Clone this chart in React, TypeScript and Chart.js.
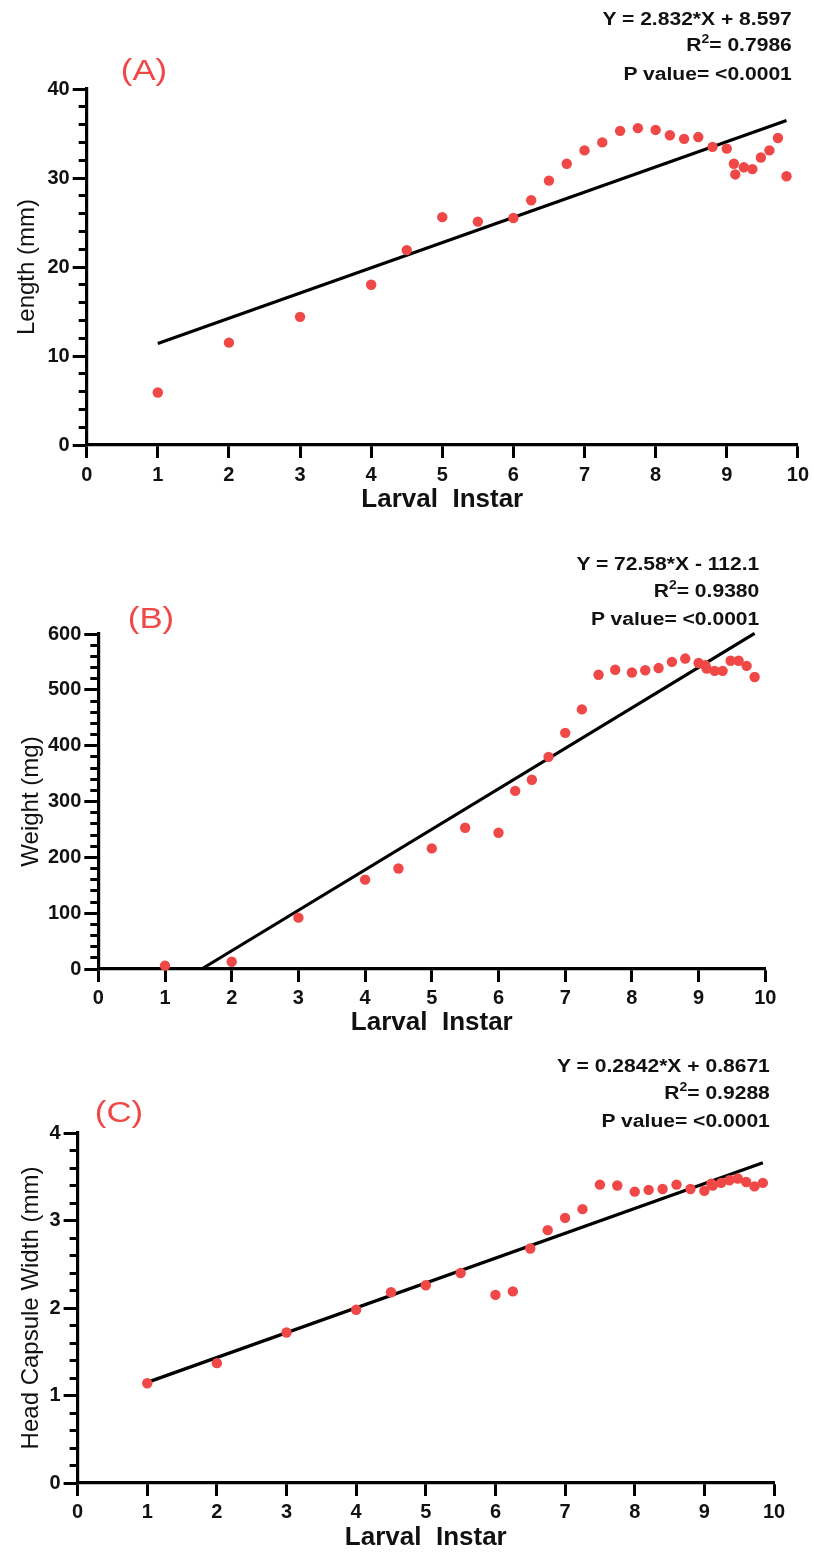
import React, { useEffect, useRef } from 'react';
import { Chart, registerables } from 'chart.js';

Chart.register(...registerables);

// ---------- data ----------
const instar = [1, 2, 3, 4, 4.5, 5, 5.5, 6, 6.25, 6.5, 6.75, 7, 7.25, 7.5, 7.75, 8, 8.2, 8.4, 8.6, 8.8, 9, 9.1, 9.12, 9.24, 9.36, 9.48, 9.6, 9.72, 9.84];
const lengthMm = [5.9, 11.5, 14.4, 18.0, 21.9, 25.6, 25.1, 25.5, 27.5, 29.7, 31.6, 33.1, 34.0, 35.3, 35.6, 35.4, 34.8, 34.4, 34.6, 33.5, 33.3, 31.6, 30.4, 31.2, 31.0, 32.3, 33.1, 34.5, 30.2];
const weightMg = [6, 13, 92, 160, 180, 216, 253, 244, 319, 339, 380, 423, 465, 527, 536, 531, 535, 539, 550, 556, 548, 544, 538, 534, 534, 552, 552, 543, 523];
const headWidthMm = [1.14, 1.37, 1.72, 1.98, 2.18, 2.26, 2.4, 2.15, 2.19, 2.68, 2.89, 3.03, 3.13, 3.41, 3.4, 3.33, 3.35, 3.36, 3.41, 3.36, 3.34, 3.42, 3.4, 3.43, 3.46, 3.48, 3.44, 3.39, 3.43];

const lengthFitX = [1, 9.84];
const lengthFitY = [11.4, 36.46];
const weightFitX = [1.55, 9.84];
const weightFitY = [0, 601];
const headFitX = [1, 9.84];
const headFitY = [1.15, 3.66];

const xTickLabels = ['0', '1', '2', '3', '4', '5', '6', '7', '8', '9', '10'];
const lengthTicks = [0, 10, 20, 30, 40];
const weightTicks = [0, 100, 200, 300, 400, 500, 600];
const headTicks = [0, 1, 2, 3, 4];

const lengthStats = ['Y = 2.832*X + 8.597', '0.7986', 'P value= <0.0001'];
const weightStats = ['Y = 72.58*X - 112.1', '0.9380', 'P value= <0.0001'];
const headStats = ['Y = 0.2842*X + 0.8671', '0.9288', 'P value= <0.0001'];

// ---------- styling ----------
const FONT = "'Liberation Sans', Arial, Helvetica, sans-serif";
const RED = '#F04747';
const INK = '#111111';

type PanelProps = {
  top: number;
  height: number;
  padTop: number;
  padRight: number;
  yWidth: number;
  xHeight: number;
  xPad: number;
  yTitle: string;
  yTitlePad: number;
  majors: number[];
  xs: number[];
  ys: number[];
  fitX: number[];
  fitY: number[];
};

function Panel(p: PanelProps) {
  const ref = useRef<HTMLCanvasElement | null>(null);
  useEffect(() => {
    if (!ref.current) return;
    const majors = p.majors;
    const majorStep = majors[1] - majors[0];
    const minorStep = majorStep / 5;
    const yMax = majors[majors.length - 1];
    const isMajor = (v: number) => Math.abs(v / majorStep - Math.round(v / majorStep)) < 1e-6;
    const chart = new Chart(ref.current, {
      type: 'scatter',
      data: {
        datasets: [
          {
            data: p.xs.map((x, i) => ({ x, y: p.ys[i] })),
            backgroundColor: RED,
            borderWidth: 0,
            pointRadius: 5.2,
            pointHoverRadius: 5.2,
            clip: false,
          } as any,
          {
            type: 'line',
            data: p.fitX.map((x, i) => ({ x, y: p.fitY[i] })),
            borderColor: '#000',
            borderWidth: 3.2,
            pointRadius: 0,
            showLine: true,
            fill: false,
            clip: false,
          } as any,
        ],
      },
      options: {
        responsive: false,
        animation: false,
        events: [],
        layout: { padding: { top: p.padTop, right: p.padRight, left: 0, bottom: 0 } },
        plugins: { legend: { display: false }, tooltip: { enabled: false }, title: { display: false } },
        scales: {
          x: {
            type: 'linear',
            min: 0,
            max: 10,
            afterFit: (s: any) => { s.height = p.xHeight; },
            ticks: {
              stepSize: 1,
              autoSkip: false,
              maxRotation: 0,
              padding: p.xPad,
              color: INK,
              font: { family: FONT, size: 20, weight: 'bold' },
              callback: (v: any) => xTickLabels[Math.round(Number(v))] ?? '',
            },
            grid: { display: true, drawOnChartArea: false, drawTicks: true, tickLength: 13, tickWidth: 3, tickColor: '#000' },
            border: { display: true, color: '#000', width: 3.2 },
            title: {
              display: true,
              text: 'Larval  Instar',
              color: INK,
              font: { family: FONT, size: 26, weight: 'bold' },
              padding: { top: 0, bottom: 0 },
            },
          },
          y: {
            type: 'linear',
            min: 0,
            max: yMax,
            afterFit: (s: any) => { s.width = p.yWidth; },
            ticks: {
              stepSize: minorStep,
              autoSkip: false,
              padding: 3,
              color: INK,
              font: { family: FONT, size: 20, weight: 'bold' },
              callback: (v: any) => {
                const n = Number(v);
                if (!isMajor(n)) return '';
                const m = majors.find((t) => Math.abs(t - n) < 1e-6);
                return m === undefined ? '' : String(m);
              },
            },
            grid: {
              display: true,
              drawOnChartArea: false,
              drawTicks: true,
              tickLength: 14,
              tickWidth: 3,
              tickColor: '#000',
              tickBorderDash: (ctx: any) => (ctx.tick && isMajor(ctx.tick.value) ? [] : [0, 6, 30, 0]),
            } as any,
            border: { display: true, color: '#000', width: 3.2 },
            title: {
              display: true,
              text: p.yTitle,
              color: INK,
              font: { family: FONT, size: 24, weight: 'normal' },
              padding: { top: p.yTitlePad, bottom: 0 },
            },
          },
        },
      } as any,
    });
    return () => chart.destroy();
  }, []);
  return (
    <canvas
      ref={ref}
      width={814}
      height={p.height}
      style={{ position: 'absolute', left: 0, top: p.top, width: 814, height: p.height, display: 'block' }}
    />
  );
}

function Stats({ lines, right, top }: { lines: string[]; right: number; top: number }) {
  return (
    <div
      style={{
        position: 'absolute',
        right: 814 - right,
        top,
        textAlign: 'right',
        fontFamily: FONT,
        fontWeight: 'bold',
        fontSize: 18,
        lineHeight: '26.5px',
        color: INK,
        whiteSpace: 'nowrap',
        transform: 'scaleX(1.17)',
        transformOrigin: 'right top',
      }}
    >
      <div>{lines[0]}</div>
      <div>
        R<span style={{ fontSize: 12, position: 'relative', top: -8 }}>2</span>= {lines[1]}
      </div>
      <div>{lines[2]}</div>
    </div>
  );
}

function Letter({ text, cx, cy }: { text: string; cx: number; cy: number }) {
  return (
    <div
      style={{
        position: 'absolute',
        left: cx,
        top: cy,
        transform: 'translate(-50%, -50%) scaleX(1.2)',
        fontFamily: FONT,
        fontSize: 29,
        lineHeight: '32px',
        color: RED,
        whiteSpace: 'nowrap',
      }}
    >
      {text}
    </div>
  );
}

export default function App() {
  return (
    <div style={{ position: 'absolute', left: 0, top: 0, width: 814, height: 1553, background: '#fff', overflow: 'hidden' }}>
      <Panel
        top={0}
        height={515}
        padTop={89}
        padRight={13.3}
        yWidth={86.7}
        xHeight={70}
        xPad={5}
        yTitle="Length (mm)"
        yTitlePad={12.6}
        majors={lengthTicks}
        xs={instar}
        ys={lengthMm}
        fitX={lengthFitX}
        fitY={lengthFitY}
      />
      <Panel
        top={515}
        height={523}
        padTop={119}
        padRight={48.7}
        yWidth={98.3}
        xHeight={69}
        xPad={4}
        yTitle="Weight (mg)"
        yTitlePad={16.6}
        majors={weightTicks}
        xs={instar}
        ys={weightMg}
        fitX={weightFitX}
        fitY={weightFitY}
      />
      <Panel
        top={1038}
        height={515}
        padTop={95}
        padRight={40}
        yWidth={77.6}
        xHeight={70}
        xPad={4}
        yTitle="Head Capsule Width (mm)"
        yTitlePad={16.6}
        majors={headTicks}
        xs={instar}
        ys={headWidthMm}
        fitX={headFitX}
        fitY={headFitY}
      />
      <Stats lines={lengthStats} right={792} top={5.75} />
      <Stats lines={weightStats} right={759} top={551} />
      <Stats lines={headStats} right={770} top={1053} />
      <Letter text="(A)" cx={144} cy={70} />
      <Letter text="(B)" cx={151} cy={618} />
      <Letter text="(C)" cx={119} cy={1112} />
    </div>
  );
}
